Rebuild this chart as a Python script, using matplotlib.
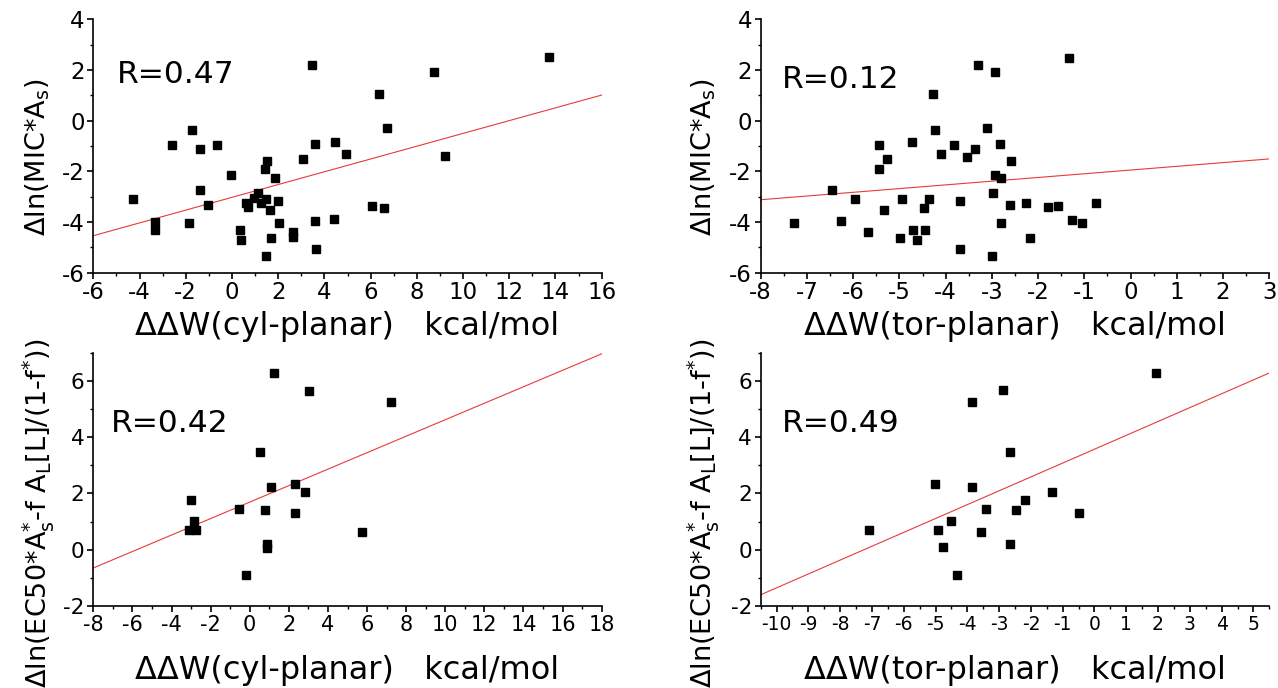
import numpy as np
import matplotlib
matplotlib.use("Agg")
import matplotlib.pyplot as plt
from matplotlib.ticker import MultipleLocator

plt.rcParams['font.family'] = ['DejaVu Sans']
plt.rcParams['mathtext.fontset'] = 'dejavusans'
plt.rcParams['axes.unicode_minus'] = False

# ---- data: top-left (cyl-planar vs MIC) ----
tl_x = [-4.30, -3.33, -3.33, -2.61, -1.71, -1.39, -1.39, -1.86, -1.03, -0.63,
        -0.05, 0.34, 0.40, 0.59, 0.69, 0.96, 1.13, 1.25, 1.49, 1.45,
        1.52, 1.87, 1.65, 2.01, 2.04, 1.71, 1.46, 2.65, 2.62, 3.08,
        3.48, 3.60, 3.60, 3.63, 4.44, 4.92, 4.40, 6.04, 6.60, 6.37,
        6.73, 8.74, 9.23, 13.74]
tl_y = [-3.11, -4.01, -4.32, -0.95, -0.36, -1.13, -2.74, -4.03, -3.33, -0.96,
        -2.16, -4.32, -4.71, -3.25, -3.42, -3.07, -2.87, -3.25, -3.09, -1.91,
        -1.58, -2.25, -3.53, -3.17, -4.03, -4.63, -5.33, -4.39, -4.61, -1.50,
        2.20, -0.91, -3.96, -5.07, -0.86, -1.30, -3.90, -3.36, -3.45, 1.04,
        -0.28, 1.93, -1.41, 2.50]

# ---- data: top-right (tor-planar vs MIC) ----
tr_x = [-7.29, -6.45, -6.27, -5.97, -5.67, -5.44, -5.44, -5.27, -5.33, -4.99,
        -4.94, -4.73, -4.70, -4.61, -4.45, -4.47, -4.37, -4.28, -4.22, -4.11,
        -3.81, -3.68, -3.68, -3.54, -3.37, -3.30, -3.11, -2.94, -2.83, -2.94,
        -2.80, -2.58, -2.98, -2.61, -2.80, -2.99, -2.27, -2.17, -1.78, -1.57,
        -1.33, -1.26, -1.06, -0.75]
tr_y = [-4.04, -2.74, -3.96, -3.11, -4.38, -0.95, -1.92, -1.50, -3.54, -4.63,
        -3.08, -0.86, -4.33, -4.72, -4.33, -3.45, -3.11, 1.04, -0.36, -1.30,
        -0.96, -3.17, -5.07, -1.42, -1.13, 2.20, -0.28, 1.93, -0.91, -2.16,
        -2.26, -1.58, -2.84, -3.34, -4.04, -5.33, -3.26, -4.62, -3.42, -3.36,
        2.49, -3.91, -4.03, -3.26]

# ---- data: bottom-left (cyl-planar vs EC50) ----
bl_x = [-3.01, -2.84, -3.11, -2.76, -0.53, -0.19, 0.51, 0.77, 0.89, 0.89,
        1.11, 1.23, 2.33, 2.31, 2.81, 3.01, 7.20, 5.75]
bl_y = [1.78, 1.03, 0.69, 0.69, 1.44, -0.90, 3.46, 1.41, 0.20, 0.07,
        2.22, 6.27, 2.34, 1.29, 2.05, 5.64, 5.25, 0.62]

# ---- data: bottom-right (tor-planar vs EC50) ----
br_x = [-7.08, -5.01, -4.93, -4.51, -4.75, -4.34, -3.85, -3.85, -3.41, -3.56,
        -2.88, -2.67, -2.67, -2.47, -2.20, -1.35, -0.50, 1.93]
br_y = [0.70, 2.34, 0.69, 1.03, 0.08, -0.90, 5.24, 2.22, 1.46, 0.62,
        5.66, 3.46, 0.21, 1.41, 1.76, 2.05, 1.29, 6.28]

# linear fits (intercept, slope)
fit_tl = (-3.026, 0.2523)
fit_tr = (-1.949, 0.1464)
fit_bl = (1.692, 0.2927)
fit_br = (3.571, 0.4925)

r_labels = ["R=0.47", "R=0.12", "R=0.42", "R=0.49"]

xlab_cyl = "\u0394\u0394W(cyl-planar)   kcal/mol"
xlab_tor = "\u0394\u0394W(tor-planar)   kcal/mol"
ylab_mic = r"$\Delta$ln(MIC*A$_\mathrm{s}$)"
ylab_ec = r"$\Delta$ln(EC50*A$_\mathrm{s}^{*}$-f A$_\mathrm{L}$[L]/(1-f$^{*}$))"

W, H = 1278, 688
fig = plt.figure(figsize=(W / 100, H / 100), dpi=100)

def axpos(l, r, t, b):
    return [l / W, 1 - b / H, (r - l) / W, (b - t) / H]

panels = [
    dict(pos=axpos(93.3, 601.7, 19.3, 272.7), x=tl_x, y=tl_y, fit=fit_tl,
         xlim=(-6, 16), ylim=(-6, 4), xmaj=2, xmin=1, ymaj=2, ymin=1,
         xlab=xlab_cyl, ylab=ylab_mic, r=r_labels[0], rpos=(0.046, 0.747),
         xts=16.5, yts=16.5, xlc=(0.5, -0.245), ylc=(-0.095, 0.457)),
    dict(pos=axpos(760.7, 1269.3, 19.3, 272.7), x=tr_x, y=tr_y, fit=fit_tr,
         xlim=(-8, 3), ylim=(-6, 4), xmaj=1, xmin=0.5, ymaj=2, ymin=1,
         xlab=xlab_tor, ylab=ylab_mic, r=r_labels[1], rpos=(0.041, 0.728),
         xts=16.5, yts=16.5, xlc=(0.5, -0.245), ylc=(-0.096, 0.457)),
    dict(pos=axpos(93.3, 601.7, 352.7, 606), x=bl_x, y=bl_y, fit=fit_bl,
         xlim=(-8, 18), ylim=(-2, 7), xmaj=2, xmin=1, ymaj=2, ymin=1,
         xlab=xlab_cyl, ylab=ylab_ec, r=r_labels[2], rpos=(0.035, 0.688),
         xts=15, yts=15.5, xlc=(0.5, -0.29), ylc=(-0.093, 0.367)),
    dict(pos=axpos(760.7, 1269.3, 352.7, 606), x=br_x, y=br_y, fit=fit_br,
         xlim=(-10.5, 5.5), ylim=(-2, 7), xmaj=1, xmin=0.5, ymaj=2, ymin=1,
         xlab=xlab_tor, ylab=ylab_ec, r=r_labels[3], rpos=(0.041, 0.688),
         xts=13.5, yts=15.5, xlc=(0.5, -0.29), ylc=(-0.096, 0.367)),
]

for i, p in enumerate(panels):
    ax = fig.add_axes(p['pos'])
    ax.plot(p['x'], p['y'], linestyle='none', marker='s', ms=6.3,
            color='black', zorder=3, clip_on=False)
    xl = np.array(p['xlim'])
    b0, m = p['fit']
    ax.plot(xl, b0 + m * xl, color='#e83a3a', lw=0.8, zorder=2)
    ax.set_xlim(*p['xlim'])
    ax.set_ylim(*p['ylim'])
    ax.xaxis.set_major_locator(MultipleLocator(p['xmaj']))
    ax.xaxis.set_minor_locator(MultipleLocator(p['xmin']))
    ax.yaxis.set_major_locator(MultipleLocator(p['ymaj']))
    ax.yaxis.set_minor_locator(MultipleLocator(p['ymin']))
    for s in ['top', 'right']:
        ax.spines[s].set_visible(False)
    for s in ['left', 'bottom']:
        ax.spines[s].set_linewidth(1.2)
    ax.tick_params(which='major', direction='out', length=4.3, width=1.2,
                   pad=2.0)
    ax.tick_params(axis='x', which='major', labelsize=p['xts'])
    ax.tick_params(axis='y', which='major', labelsize=p['yts'])
    ax.tick_params(which='minor', direction='out', length=2.3, width=1.0)
    ax.set_xlabel(p['xlab'], fontsize=23, va='baseline')
    ax.set_ylabel(p['ylab'], fontsize=19.5, va='baseline')
    ax.xaxis.set_label_coords(*p['xlc'])
    ax.yaxis.set_label_coords(*p['ylc'])
    ax.text(p['rpos'][0], p['rpos'][1], p['r'], transform=ax.transAxes,
            fontsize=22.5, ha='left', va='baseline')

fig.savefig('out.png', dpi=100)
